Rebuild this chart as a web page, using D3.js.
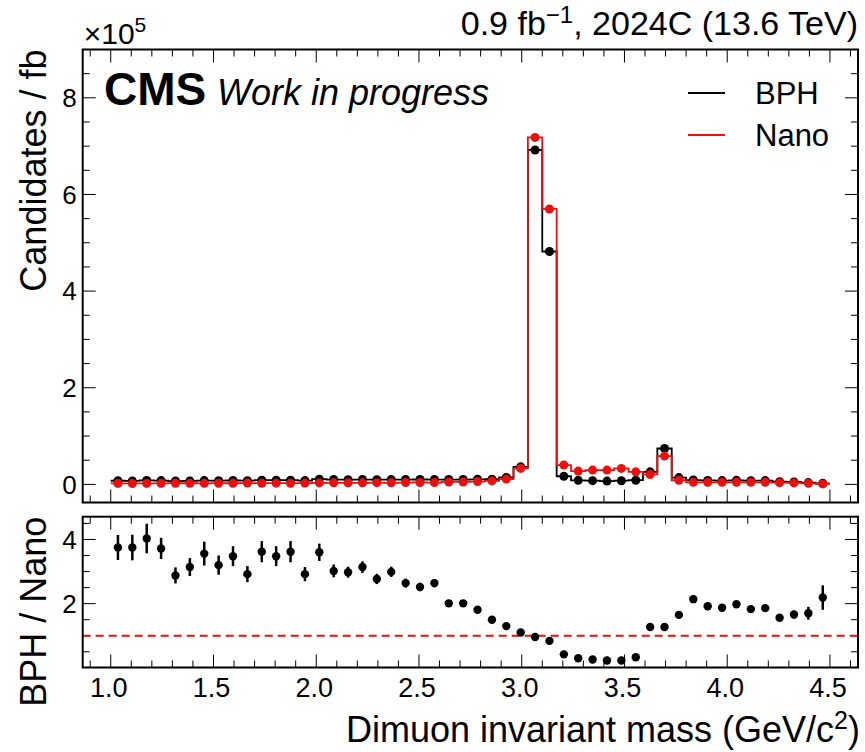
<!DOCTYPE html>
<html>
<head>
<meta charset="utf-8">
<script src="https://cdn.jsdelivr.net/npm/d3@7"></script>
<style>
  body { margin: 0; background: #fff; }
  text { font-family: "Liberation Sans", Arial, Helvetica, sans-serif; fill: #000; }
</style>
</head>
<body>
<svg id="chart" width="865" height="752"></svg>
<script>
// Dimuon mass bins (GeV/c^2), 0.07 wide
const binEdges = [1.00,1.07,1.14,1.21,1.28,1.35,1.42,1.49,1.56,1.63,1.70,1.77,1.84,1.91,1.98,2.05,2.12,2.19,2.26,2.33,2.40,
  2.47,2.54,2.61,2.68,2.75,2.82,2.89,2.96,3.03,3.10,3.17,3.24,3.31,3.38,3.45,3.52,3.59,3.66,3.73,3.80,
  3.87,3.94,4.01,4.08,4.15,4.22,4.29,4.36,4.43,4.50];

// Candidates / fb, in units of 1e5
const bphValues = [0.075,0.071,0.081,0.078,0.069,0.072,0.078,0.077,0.080,0.076,0.087,0.087,0.087,0.079,
  0.108,0.100,0.098,0.100,0.097,0.099,0.100,0.101,0.100,0.100,0.100,0.105,0.108,0.143,0.363,
  6.92,4.82,0.168,0.083,0.077,0.068,0.076,0.086,0.260,0.743,0.140,
  0.090,0.081,0.079,0.083,0.077,0.078,0.055,0.050,0.037,0.022];
const nanoValues = [0.020,0.019,0.020,0.021,0.024,0.023,0.022,0.024,0.023,0.026,0.024,0.025,0.024,0.027,
  0.030,0.033,0.033,0.032,0.035,0.033,0.038,0.040,0.038,0.050,0.050,0.058,0.072,0.110,0.330,
  7.18,5.70,0.400,0.275,0.296,0.296,0.330,0.260,0.205,0.585,0.085,
  0.042,0.042,0.042,0.042,0.042,0.042,0.035,0.030,0.022,0.010];

// BPH / Nano ratio and its uncertainty
const ratioValues = [3.75,3.75,4.03,3.72,2.88,3.14,3.56,3.20,3.48,2.92,3.62,3.48,3.62,2.92,3.60,3.02,2.98,3.14,2.77,2.99,
  2.64,2.52,2.64,2.01,2.01,1.81,1.50,1.30,1.10,0.96,0.84,0.42,0.30,0.26,0.23,0.23,0.33,1.27,1.27,1.65,
  2.14,1.92,1.87,1.98,1.83,1.86,1.56,1.66,1.70,2.19];
const ratioErrors = [0.39,0.40,0.46,0.33,0.25,0.28,0.37,0.30,0.31,0.25,0.33,0.31,0.33,0.22,0.27,0.20,0.17,0.18,0.16,0.16,
  0.14,0.13,0.13,0.07,0.07,0.06,0.04,0.03,0.02,0.01,0.01,0.01,0.01,0.01,0.01,0.01,0.02,0.04,0.03,0.05,
  0.12,0.09,0.10,0.10,0.09,0.10,0.08,0.12,0.20,0.38];

const xTickLabels = ["1.0","1.5","2.0","2.5","3.0","3.5","4.0","4.5"];
const xMajorTicks = [1.0,1.5,2.0,2.5,3.0,3.5,4.0,4.5];
const topYMajorTicks = [0,2,4,6,8];
const ratioYMajorTicks = [2,4];

const svg = d3.select("#chart");

// Panel geometry
const L = 82.7, R = 858;
const topPanel = { t: 49.5, b: 502.5 };
const ratioPanel = { t: 516.7, b: 667.5 };

const x = d3.scaleLinear().domain([0.8635, 4.6365]).range([L, R]);
const yTop = d3.scaleLinear().domain([-0.375, 9.0]).range([topPanel.b, topPanel.t]);
const yRatio = d3.scaleLinear().domain([0.01, 4.71]).range([ratioPanel.b, ratioPanel.t]);

const centers = binEdges.slice(0, -1).map((e, i) => (e + binEdges[i + 1]) / 2);

// Ticks pointing into a panel on all four sides
function drawTicks(g, panel, yScale, yMajor, yMinorStep) {
  const MAJ = 13, MIN = 7;
  const xs = x.ticks(40).filter(v => v >= x.domain()[0] && v <= x.domain()[1]);
  xs.forEach(v => {
    const isMajor = xMajorTicks.some(m => Math.abs(m - v) < 1e-6);
    const len = isMajor ? MAJ : MIN;
    g.append("line").attr("x1", x(v)).attr("x2", x(v)).attr("y1", panel.b).attr("y2", panel.b - len)
      .attr("stroke", "#000").attr("stroke-width", 1);
    g.append("line").attr("x1", x(v)).attr("x2", x(v)).attr("y1", panel.t).attr("y2", panel.t + len)
      .attr("stroke", "#000").attr("stroke-width", 1);
  });
  const [y0, y1] = yScale.domain();
  const ys = d3.range(Math.ceil(y0 / yMinorStep) * yMinorStep, y1 + 1e-9, yMinorStep);
  ys.forEach(v => {
    const isMajor = yMajor.some(m => Math.abs(m - v) < 1e-6);
    const len = isMajor ? MAJ : MIN;
    g.append("line").attr("x1", L).attr("x2", L + len).attr("y1", yScale(v)).attr("y2", yScale(v))
      .attr("stroke", "#000").attr("stroke-width", 1);
    g.append("line").attr("x1", R).attr("x2", R - len).attr("y1", yScale(v)).attr("y2", yScale(v))
      .attr("stroke", "#000").attr("stroke-width", 1);
  });
}

function stepPath(values, scaleY) {
  const pts = [];
  values.forEach((v, i) => { pts.push([binEdges[i], v]); pts.push([binEdges[i + 1], v]); });
  return d3.line().x(d => x(d[0])).y(d => scaleY(d[1]))(pts);
}

// ---------- Main panel ----------
const gTop = svg.append("g");
drawTicks(gTop, topPanel, yTop, topYMajorTicks, 0.5);

const series = [
  { name: "BPH", values: bphValues, color: "#000" },
  { name: "Nano", values: nanoValues, color: "#e8110f" }
];

series.forEach(s => {
  gTop.append("path").attr("d", stepPath(s.values, yTop))
    .attr("fill", "none").attr("stroke", s.color).attr("stroke-width", 1.8);
  gTop.selectAll(null).data(s.values).enter().append("circle")
    .attr("cx", (d, i) => x(centers[i])).attr("cy", d => yTop(d)).attr("r", 4.5)
    .attr("fill", s.color);
});

gTop.append("rect").attr("x", L).attr("y", topPanel.t).attr("width", R - L).attr("height", topPanel.b - topPanel.t)
  .attr("fill", "none").attr("stroke", "#000").attr("stroke-width", 2);

gTop.selectAll(null).data(topYMajorTicks).enter().append("text")
  .attr("x", L - 6).attr("y", d => yTop(d)).attr("dy", "0.36em")
  .attr("text-anchor", "end").attr("font-size", 26).text(d => d);

// multiplier above the y axis
const mult = gTop.append("text").attr("x", L + 1).attr("y", 44).attr("font-size", 30);
mult.append("tspan").text("×10");
mult.append("tspan").attr("dy", -12).attr("font-size", 21).text("5");

// y label
svg.append("text").attr("transform", `translate(46,${topPanel.t}) rotate(-90)`)
  .attr("text-anchor", "end").attr("font-size", 36).text("Candidates / fb");

// CMS label
svg.append("text").attr("x", 104).attr("y", 105).attr("font-size", 46).attr("font-weight", "bold").text("CMS");
svg.append("text").attr("x", 217).attr("y", 105).attr("font-size", 36).attr("font-style", "italic").text("Work in progress");

// luminosity label
const lumi = svg.append("text").attr("x", R).attr("y", 35).attr("text-anchor", "end").attr("font-size", 34);
lumi.append("tspan").text("0.9 fb");
lumi.append("tspan").attr("dy", -12).attr("font-size", 24).text("−1");
lumi.append("tspan").attr("dy", 12).text(", 2024C (13.6 TeV)");

// legend
series.forEach((s, i) => {
  const ly = 93 + i * 42;
  svg.append("line").attr("x1", 688).attr("x2", 725).attr("y1", ly).attr("y2", ly)
    .attr("stroke", s.color).attr("stroke-width", 1.8);
  svg.append("text").attr("x", 755).attr("y", ly).attr("dy", "0.36em").attr("font-size", 31).text(s.name);
});

// ---------- Ratio panel ----------
const gR = svg.append("g");
drawTicks(gR, ratioPanel, yRatio, ratioYMajorTicks, 0.5);

gR.append("line").attr("x1", L).attr("x2", R).attr("y1", yRatio(1)).attr("y2", yRatio(1))
  .attr("stroke", "#e8110f").attr("stroke-width", 2).attr("stroke-dasharray", "8,5");

gR.selectAll(null).data(ratioValues).enter().append("line")
  .attr("x1", (d, i) => x(centers[i])).attr("x2", (d, i) => x(centers[i]))
  .attr("y1", (d, i) => yRatio(d - ratioErrors[i])).attr("y2", (d, i) => yRatio(d + ratioErrors[i]))
  .attr("stroke", "#000").attr("stroke-width", 2.5);
gR.selectAll(null).data(ratioValues).enter().append("circle")
  .attr("cx", (d, i) => x(centers[i])).attr("cy", d => yRatio(d)).attr("r", 4.2).attr("fill", "#000");

gR.append("rect").attr("x", L).attr("y", ratioPanel.t).attr("width", R - L).attr("height", ratioPanel.b - ratioPanel.t)
  .attr("fill", "none").attr("stroke", "#000").attr("stroke-width", 2);

gR.selectAll(null).data(ratioYMajorTicks).enter().append("text")
  .attr("x", L - 6).attr("y", d => yRatio(d)).attr("dy", "0.36em")
  .attr("text-anchor", "end").attr("font-size", 26).text(d => d);

gR.selectAll(null).data(xMajorTicks).enter().append("text")
  .attr("x", d => x(d) - 2).attr("y", 697).attr("text-anchor", "middle").attr("font-size", 27)
  .text((d, i) => xTickLabels[i]);

svg.append("text").attr("transform", `translate(46,${ratioPanel.t}) rotate(-90)`)
  .attr("text-anchor", "end").attr("font-size", 36).text("BPH / Nano");

// x label
const xl = svg.append("text").attr("x", R + 2).attr("y", 742).attr("text-anchor", "end").attr("font-size", 36);
xl.append("tspan").text("Dimuon invariant mass (GeV/c");
xl.append("tspan").attr("dy", -13).attr("font-size", 25).text("2");
xl.append("tspan").attr("dy", 13).text(")");
</script>
</body>
</html>
